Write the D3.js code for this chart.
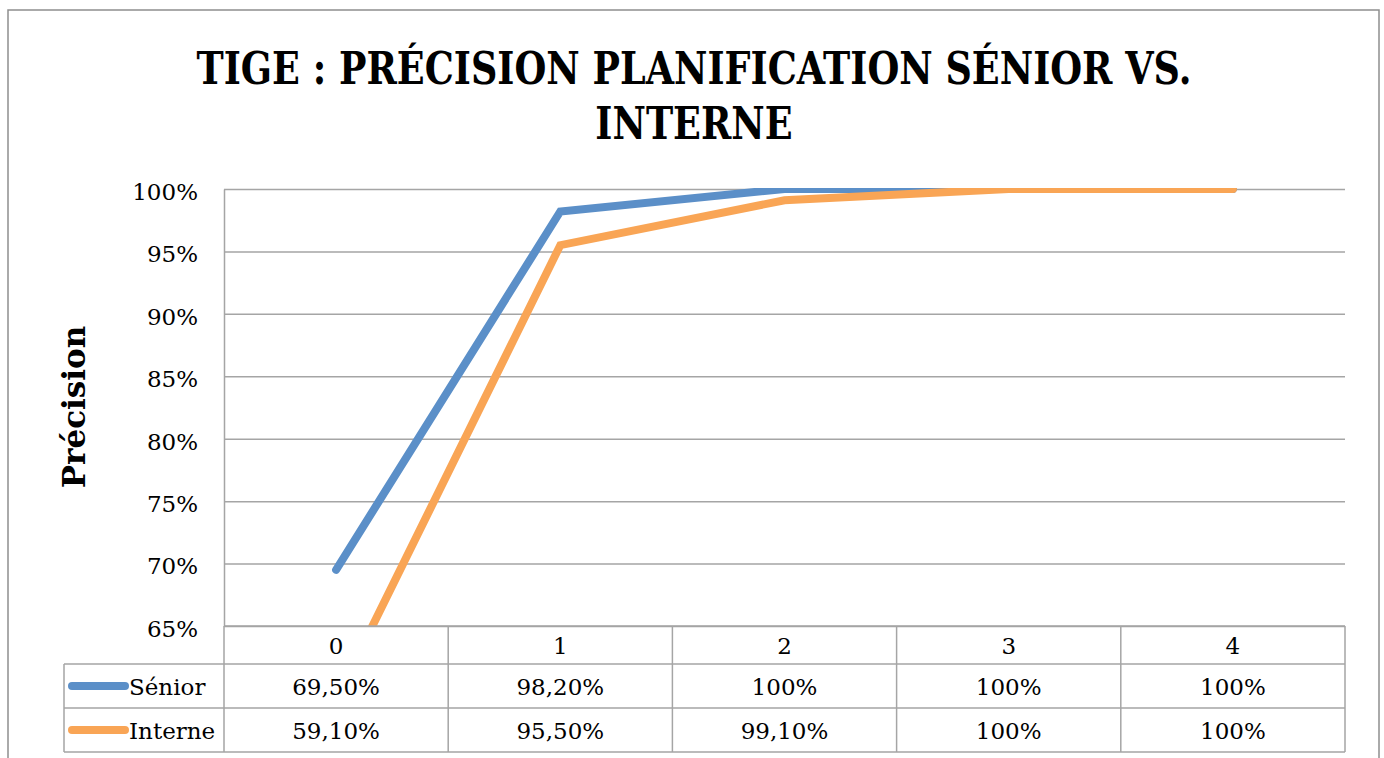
<!DOCTYPE html>
<html>
<head>
<meta charset="utf-8">
<script src="https://cdn.jsdelivr.net/npm/d3@7"></script>
<style>
  html, body { margin: 0; padding: 0; background: #fff; }
  svg { display: block; }
</style>
</head>
<body>
<svg id="chart" width="1384" height="758"></svg>
<script>
const categories = ["0", "1", "2", "3", "4"];
const seriesNames = ["Sénior", "Interne"];
const seniorValues = [0.695, 0.982, 1.00, 1.00, 1.00];
const interneValues = [0.591, 0.955, 0.991, 1.00, 1.00];
const seniorLabels = ["69,50%", "98,20%", "100%", "100%", "100%"];
const interneLabels = ["59,10%", "95,50%", "99,10%", "100%", "100%"];
const yTickValues = [0.65, 0.70, 0.75, 0.80, 0.85, 0.90, 0.95, 1.00];
const titleLines = ["TIGE : PRÉCISION PLANIFICATION SÉNIOR VS.", "INTERNE"];
const yTitle = "Précision";

const colors = ["#5B8FC8", "#F9A555"];
const gridColor = "#A5A5A5";
const serif = "'DejaVu Serif', serif";

const svg = d3.select("#chart");
const plot = { left: 224, right: 1345, top: 189, bottom: 626 };
const tableLeft = 64;
const rowH = 44;
const headerBottom = 664;

// outer frame
svg.append("rect").attr("x", 8).attr("y", 10).attr("width", 1371).attr("height", 760)
  .attr("fill", "none").attr("stroke", "#8E8E8E").attr("stroke-width", 1.5);

// title
const tg = svg.append("g");
const tLines = tg.selectAll("text").data(titleLines).join("text")
  .attr("x", 0).attr("y", (d, i) => 84 + i * 55)
  .attr("text-anchor", "middle")
  .attr("font-family", serif).attr("font-weight", "bold").attr("font-size", 45)
  .attr("fill", "#000").text(d => d);
const w0 = tLines.nodes()[0].getComputedTextLength();
const sx = 995 / w0;
tg.attr("transform", `translate(694,0) scale(${sx},1)`);

// scales
const x = d3.scaleBand().domain(categories).range([plot.left, plot.right]).padding(0);
const xc = d => x(d) + x.bandwidth() / 2;
const y = d3.scaleLinear().domain([0.65, 1.0]).range([plot.bottom, plot.top]);

// y axis with gridlines
const yAxis = d3.axisLeft(y).tickValues(yTickValues)
  .tickFormat(d => Math.round(d * 100) + "%")
  .tickSizeInner(-(plot.right - plot.left)).tickSizeOuter(0).tickPadding(26);
const ya = svg.append("g").attr("transform", `translate(${plot.left},0)`).call(yAxis);
ya.select(".domain").attr("stroke", gridColor).attr("stroke-width", 1.5);
ya.selectAll(".tick line").attr("stroke", gridColor).attr("stroke-width", 1.5);
ya.selectAll(".tick text").attr("font-family", serif).attr("font-size", 23).attr("fill", "#000")
  .attr("dy", "0.45em");

// y title
svg.append("text").attr("transform", "translate(85,407) rotate(-90)")
  .attr("text-anchor", "middle").attr("font-family", serif).attr("font-weight", "bold")
  .attr("font-size", 31).attr("fill", "#000").text(yTitle);

// lines
svg.append("clipPath").attr("id", "clip").append("rect")
  .attr("x", plot.left).attr("y", plot.top - 1).attr("width", plot.right - plot.left)
  .attr("height", plot.bottom - plot.top + 1);
const line = d3.line().x((d, i) => xc(categories[i])).y(d => y(d));
const seriesData = [seniorValues, interneValues];
svg.append("g").attr("clip-path", "url(#clip)").selectAll("path").data(seriesData).join("path")
  .attr("d", line).attr("fill", "none").attr("stroke", (d, i) => colors[i])
  .attr("stroke-width", 8).attr("stroke-linecap", "round").attr("stroke-linejoin", "miter");

// data table
const tbl = svg.append("g");
function hline(x1, x2, yy) {
  tbl.append("line").attr("x1", x1).attr("x2", x2).attr("y1", yy).attr("y2", yy)
    .attr("stroke", gridColor).attr("stroke-width", 1.5);
}
function vline(xx, y1, y2) {
  tbl.append("line").attr("x1", xx).attr("x2", xx).attr("y1", y1).attr("y2", y2)
    .attr("stroke", gridColor).attr("stroke-width", 1.5);
}
hline(plot.left, plot.right, plot.bottom);
hline(tableLeft, plot.right, headerBottom);
hline(tableLeft, plot.right, headerBottom + rowH);
hline(tableLeft, plot.right, headerBottom + 2 * rowH);
const colEdges = categories.map(c => x(c)).concat([plot.right]);
colEdges.forEach(e => vline(e, plot.bottom, headerBottom + 2 * rowH));
vline(tableLeft, headerBottom, headerBottom + 2 * rowH);

// header labels
tbl.selectAll("text.hdr").data(categories).join("text").attr("class", "hdr")
  .attr("x", d => xc(d)).attr("y", (plot.bottom + headerBottom) / 2 + 1).attr("dy", "0.35em")
  .attr("text-anchor", "middle").attr("font-family", serif).attr("font-size", 23)
  .attr("fill", "#000").text(d => d);

const rowLabels = [seniorLabels, interneLabels];
rowLabels.forEach((labels, r) => {
  const cy = headerBottom + rowH * r + rowH / 2;
  tbl.selectAll(`text.r${r}`).data(labels).join("text").attr("class", `r${r}`)
    .attr("x", (d, i) => xc(categories[i])).attr("y", cy + 1).attr("dy", "0.35em")
    .attr("text-anchor", "middle").attr("font-family", serif).attr("font-size", 23)
    .attr("fill", "#000").text(d => d);
  tbl.append("line").attr("x1", 72).attr("x2", 125).attr("y1", cy).attr("y2", cy)
    .attr("stroke", colors[r]).attr("stroke-width", 8).attr("stroke-linecap", "round");
  tbl.append("text").attr("x", 129).attr("y", cy + 1).attr("dy", "0.35em")
    .attr("font-family", serif).attr("font-size", 23).attr("fill", "#000").text(seriesNames[r]);
});
</script>
</body>
</html>
